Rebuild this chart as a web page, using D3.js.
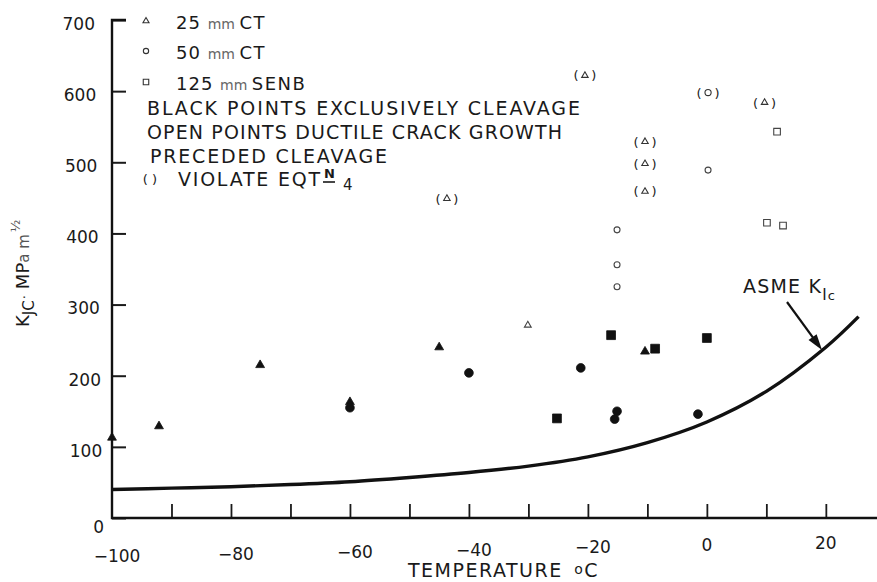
<!DOCTYPE html>
<html>
<head>
<meta charset="utf-8">
<script src="https://cdn.jsdelivr.net/npm/d3@7"></script>
<style>
  body { margin: 0; background: #fff; }
  svg { display: block; }
  text { font-family: "DejaVu Sans", sans-serif; fill: #1a1a1a; }
</style>
</head>
<body>
<div id="chart"></div>
<script>
// Data: [temperature degC, K_JC MPa m^1/2]
const cleavageTriangles = [[-100, 113], [-92.1, 129], [-75.1, 215], [-60, 163], [-45, 240], [-10.4, 234]];
const cleavageCircles = [[-60, 155], [-40, 204], [-21.2, 211], [-15.1, 150], [-15.5, 139], [-1.5, 146]];
const cleavageSquares = [[-25.2, 140], [-16.1, 257], [-8.7, 238], [0, 253]];
const ductileTriangles = [[-30.1, 271]];
const ductileCircles = [[-15.1, 405], [-15.1, 356], [-15.1, 325], [0.2, 489]];
const ductileSquares = [[11.8, 543], [10.1, 415], [12.8, 411]];
const violateTriangles = [[-43.7, 449], [-20.5, 622], [-10.4, 529], [-10.4, 498], [-10.4, 459], [9.7, 584]];
const violateCircles = [[0.2, 598]];

// ASME K_Ic reference curve
const asmeTemp = [-100, -90, -80, -70, -60, -50, -40, -30, -20, -10, 0, 10, 20, 25.5];
const asmeK = [40, 42, 44, 47, 51, 57, 64, 73, 86, 106, 135, 178, 240, 283];

const yTicks = [0, 100, 200, 300, 400, 500, 600, 700];
const xTicks = [-90, -80, -70, -60, -50, -40, -30, -20, -10, 0, 10, 20];
const xLabels = [-100, -80, -60, -40, -20, 0, 20];

const width = 877, height = 582;

const svg = d3.select("#chart").append("svg")
  .attr("width", width)
  .attr("height", height);

const x = d3.scaleLinear().domain([-100, 28.6]).range([112, 877]);
const y = d3.scaleLinear().domain([0, 700]).range([518, 20]);

const minus = s => String(s).replace("-", "\u2212");

// y axis
const yAxis = svg.append("g")
  .attr("transform", "translate(" + x(-100) + ",0)")
  .call(d3.axisLeft(y).tickValues(yTicks).tickSize(-14).tickPadding(17));
yAxis.select(".domain").remove();
yAxis.selectAll(".tick line").attr("stroke", "#1a1a1a").attr("stroke-width", 2);
yAxis.selectAll(".tick text")
  .attr("font-size", 17)
  .attr("fill", "#333")
  .attr("font-family", "DejaVu Sans, sans-serif")
  .attr("x", d => d === 0 ? -8 : -17 + (700 - d) / 100 * 1.2)
  .attr("dy", d => d === 0 ? "0.85em" : "0.55em");

// x axis
const xAxis = svg.append("g")
  .attr("transform", "translate(0," + y(0) + ")")
  .call(d3.axisBottom(x).tickValues(xTicks).tickSize(-14).tickFormat(""));
xAxis.select(".domain").remove();
xAxis.selectAll(".tick line").attr("stroke", "#1a1a1a").attr("stroke-width", 1.8);

svg.append("g").selectAll("text")
  .data(xLabels)
  .join("text")
  .attr("x", d => x(d) + (d < 0 ? 5 : 0))
  .attr("y", d => 562 - (d + 100) / 120 * 13)
  .attr("text-anchor", "middle")
  .attr("font-size", 17)
  .attr("fill", "#333")
  .text(d => minus(d));

// axis lines
svg.append("path")
  .attr("d", d3.line()([[x(-100) + 14, y(700)], [x(-100), y(700)], [x(-100), y(0)], [877, y(0)]]))
  .attr("fill", "none")
  .attr("stroke", "#111")
  .attr("stroke-width", 2.4);

// axis titles
const xt = svg.append("text")
  .attr("x", 408)
  .attr("y", 577)
  .attr("font-size", 19)
  .attr("letter-spacing", 1.5);
xt.append("tspan").text("TEMPERATURE ");
xt.append("tspan").attr("font-size", 14).attr("dy", -3).attr("dx", 4).text("o");
xt.append("tspan").attr("dy", 3).text("C");

const yt = svg.append("text")
  .attr("transform", "translate(29,327) rotate(-90)")
  .attr("font-size", 18);
yt.append("tspan").text("K");
yt.append("tspan").attr("font-size", 15).attr("dy", 5).text("JC");
yt.append("tspan").attr("font-size", 13).attr("dy", -5).attr("dx", 1).text("\u00b7");
yt.append("tspan").attr("dx", 6).text("MP");
yt.append("tspan").attr("font-size", 15).attr("fill", "#555").text("a m");
yt.append("tspan").attr("font-size", 13).attr("fill", "#555").attr("dy", -9).attr("dx", 2).text("\u00bd");

// ASME curve
svg.append("path")
  .datum(asmeTemp.map((t, i) => [t, asmeK[i]]))
  .attr("d", d3.line().x(d => x(d[0])).y(d => y(d[1])).curve(d3.curveCatmullRom))
  .attr("fill", "none")
  .attr("stroke", "#111")
  .attr("stroke-width", 3.4);

// ASME label and arrow
const al = svg.append("text")
  .attr("x", 743)
  .attr("y", 293)
  .attr("font-size", 19)
  .attr("letter-spacing", 1.2);
al.append("tspan").text("ASME K");
al.append("tspan").attr("font-size", 15).attr("dy", 7).text("I");
al.append("tspan").attr("font-size", 13).text("c");

const ax0 = 787, ay0 = 302, ax1 = 822, ay1 = 350;
const ang = Math.atan2(ay1 - ay0, ax1 - ax0);
svg.append("line")
  .attr("x1", ax0).attr("y1", ay0)
  .attr("x2", ax1 - 10 * Math.cos(ang)).attr("y2", ay1 - 10 * Math.sin(ang))
  .attr("stroke", "#111").attr("stroke-width", 2.2);
const hl = 16, hw = 5;
svg.append("path")
  .attr("d", "M" + ax1 + "," + ay1 +
    "L" + (ax1 - hl * Math.cos(ang) + hw * Math.sin(ang)) + "," + (ay1 - hl * Math.sin(ang) - hw * Math.cos(ang)) +
    "L" + (ax1 - hl * Math.cos(ang) - hw * Math.sin(ang)) + "," + (ay1 - hl * Math.sin(ang) + hw * Math.cos(ang)) + "Z")
  .attr("fill", "#111");

// markers
const sym = (type, size) => d3.symbol().type(type).size(size)();

function drawPoints(data, type, size, filled) {
  svg.append("g").selectAll("path")
    .data(data)
    .join("path")
    .attr("transform", d => "translate(" + x(d[0]) + "," + y(d[1]) + ")")
    .attr("d", sym(type, size))
    .attr("fill", filled ? "#111" : "none")
    .attr("stroke", filled ? "#111" : "#444")
    .attr("stroke-width", filled ? 0.8 : 1.1);
}

drawPoints(cleavageTriangles, d3.symbolTriangle, 34, true);
drawPoints(cleavageCircles, d3.symbolCircle, 60, true);
drawPoints(cleavageSquares, d3.symbolSquare, 78, true);
drawPoints(ductileTriangles, d3.symbolTriangle, 20, false);
drawPoints(ductileCircles, d3.symbolCircle, 28, false);
drawPoints(ductileSquares, d3.symbolSquare, 44, false);

function drawViolations(data, type, size) {
  const g = svg.append("g").selectAll("g")
    .data(data)
    .join("g")
    .attr("transform", d => "translate(" + x(d[0]) + "," + y(d[1]) + ")");
  g.append("path")
    .attr("d", sym(type, size))
    .attr("fill", "none")
    .attr("stroke", "#333")
    .attr("stroke-width", 1.1);
  g.append("text")
    .attr("x", -9).attr("y", 5)
    .attr("text-anchor", "middle")
    .attr("font-size", 13)
    .attr("fill", "#333")
    .text("(");
  g.append("text")
    .attr("x", 9).attr("y", 5)
    .attr("text-anchor", "middle")
    .attr("font-size", 13)
    .attr("fill", "#333")
    .text(")");
}

drawViolations(violateTriangles, d3.symbolTriangle, 18);
drawViolations(violateCircles, d3.symbolCircle, 30);

// legend block
const legendSymbols = [
  { type: d3.symbolTriangle, size: 16, cy: 21, label: ["25", "CT"] },
  { type: d3.symbolCircle, size: 22, cy: 51, label: ["50", "CT"] },
  { type: d3.symbolSquare, size: 30, cy: 82, label: ["125", "SENB"] }
];
legendSymbols.forEach(d => {
  svg.append("path")
    .attr("transform", "translate(146," + d.cy + ")")
    .attr("d", sym(d.type, d.size))
    .attr("fill", "none")
    .attr("stroke", "#333")
    .attr("stroke-width", 1.1);
  const t = svg.append("text")
    .attr("x", 176)
    .attr("y", d.cy + 8)
    .attr("font-size", 18);
  t.append("tspan").attr("letter-spacing", 1).text(d.label[0] + " ");
  t.append("tspan").attr("font-size", 14).attr("fill", "#666").text("mm ");
  t.append("tspan").attr("letter-spacing", 1.5).text(d.label[1]);
});

const legendLines = [
  { text: "BLACK POINTS EXCLUSIVELY CLEAVAGE", x: 147, y: 115, len: 433 },
  { text: "OPEN POINTS DUCTILE CRACK GROWTH", x: 147, y: 139, len: 415 },
  { text: "PRECEDED CLEAVAGE", x: 150, y: 163, len: 237 }
];
svg.append("g").selectAll("text")
  .data(legendLines)
  .join("text")
  .attr("x", d => d.x)
  .attr("y", d => d.y)
  .attr("font-size", 19)
  .attr("textLength", d => d.len)
  .attr("lengthAdjust", "spacing")
  .text(d => d.text);

svg.append("text")
  .attr("x", 150).attr("y", 184)
  .attr("text-anchor", "middle")
  .attr("font-size", 13)
  .attr("fill", "#333")
  .text("(  )");
svg.append("text")
  .attr("x", 178).attr("y", 186)
  .attr("font-size", 19)
  .attr("textLength", 142)
  .attr("lengthAdjust", "spacing")
  .text("VIOLATE EQT");
svg.append("text")
  .attr("x", 324).attr("y", 178)
  .attr("font-size", 13)
  .attr("font-weight", "bold")
  .text("N");
svg.append("line")
  .attr("x1", 323).attr("x2", 335)
  .attr("y1", 182).attr("y2", 182)
  .attr("stroke", "#1a1a1a").attr("stroke-width", 1.6);
svg.append("text")
  .attr("x", 343).attr("y", 190)
  .attr("font-size", 15)
  .attr("fill", "#555")
  .text("4");
</script>
</body>
</html>
